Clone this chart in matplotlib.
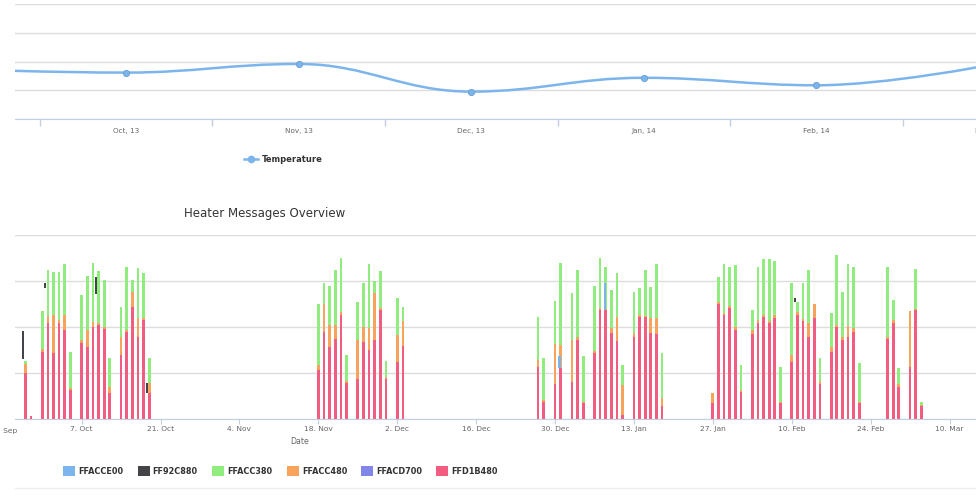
import numpy as np
import pandas as pd
import matplotlib
matplotlib.use("Agg")
import matplotlib.pyplot as plt
from matplotlib.path import Path
from matplotlib.patches import PathPatch, Rectangle
from matplotlib.lines import Line2D

plt.rcParams["font.family"] = ["DejaVu Sans"]

W, H = 976, 496

# temperature chart (monthly categories)
months = ["Sep, 13", "Oct, 13", "Nov, 13", "Dec, 13", "Jan, 14", "Feb, 14", "Mar, 14"]
temperature = [18.7, 18.1, 19.6, 14.8, 17.2, 15.9, 19.4]

# heater messages, one stacked column per day
days = [
    "2013-09-27", "2013-09-28", "2013-09-30", "2013-10-01", "2013-10-02", "2013-10-03",
    "2013-10-04", "2013-10-05", "2013-10-07", "2013-10-08", "2013-10-09", "2013-10-10",
    "2013-10-11", "2013-10-12", "2013-10-14", "2013-10-15", "2013-10-16", "2013-10-17",
    "2013-10-18", "2013-10-19",
    "2013-11-18", "2013-11-19", "2013-11-20", "2013-11-21", "2013-11-22", "2013-11-23",
    "2013-11-25", "2013-11-26", "2013-11-27", "2013-11-28", "2013-11-29", "2013-11-30",
    "2013-12-02", "2013-12-03",
    "2013-12-27", "2013-12-28", "2013-12-30", "2013-12-31", "2014-01-02", "2014-01-03",
    "2014-01-04", "2014-01-06", "2014-01-07", "2014-01-08", "2014-01-09", "2014-01-10",
    "2014-01-11", "2014-01-13", "2014-01-14", "2014-01-15", "2014-01-16", "2014-01-17",
    "2014-01-18",
    "2014-01-27", "2014-01-28", "2014-01-29", "2014-01-30", "2014-01-31", "2014-02-01",
    "2014-02-03", "2014-02-04", "2014-02-05", "2014-02-06", "2014-02-07", "2014-02-08",
    "2014-02-10", "2014-02-11", "2014-02-12", "2014-02-13", "2014-02-14", "2014-02-15",
    "2014-02-17", "2014-02-18", "2014-02-19", "2014-02-20", "2014-02-21", "2014-02-22",
    "2014-02-27", "2014-02-28", "2014-03-01", "2014-03-03", "2014-03-04", "2014-03-05",
]
pink = [
    9.9, 0.7, 14.5, 20.8, 14.3, 20.8, 19.3, 6.3, 16.6, 15.7, 19.9, 20.4, 19.5, 5.6,
    13.9, 19.0, 24.4, 17.9, 21.5, 5.6,
    10.7, 19.0, 15.7, 17.5, 22.6, 7.8, 8.8, 16.8, 15.0, 17.2, 23.7, 8.8, 12.5, 15.9,
    11.4, 3.6, 7.6, 11.0, 8.1, 17.2, 3.4, 14.3, 23.6, 23.6, 18.6, 17.0, 0.9, 17.9,
    22.2, 22.1, 18.6, 18.5, 2.8,
    3.4, 25.1, 22.6, 24.1, 19.3, 5.9, 18.5, 20.8, 22.1, 20.8, 21.9, 3.4, 12.5, 22.6,
    21.2, 17.9, 21.9, 7.7, 14.6, 19.9, 17.2, 17.8, 19.0, 3.4, 17.3, 20.8, 7.0, 11.2,
    23.6, 2.9,
]
orange = [
    2.1, 0.0, 0.8, 1.6, 8.3, 0.7, 3.3, 0.4, 0.6, 3.6, 1.1, 0.4, 0.6, 1.4,
    4.0, 0.4, 3.3, 4.0, 0.5, 2.2,
    1.0, 6.1, 4.7, 2.9, 0.7, 0.4, 8.4, 3.3, 4.7, 10.1, 0.4, 0.4, 5.8, 5.3,
    1.4, 0.5, 8.8, 5.0, 9.1, 0.6, 0.4, 0.4, 0.5, 0.4, 1.1, 5.2, 6.5, 0.7,
    0.4, 0.3, 3.3, 3.4, 1.7,
    2.2, 0.4, 0.4, 0.4, 0.8, 0.4, 0.8, 0.7, 0.5, 0.4, 0.7, 0.4, 1.4, 0.7,
    0.5, 2.9, 3.2, 0.5, 1.1, 0.5, 0.7, 2.4, 0.7, 0.4, 0.6, 0.7, 0.7, 12.2,
    0.4, 0.2,
]
green = [
    0.5, 0.0, 8.2, 10.0, 9.3, 10.5, 11.2, 7.9, 9.8, 11.8, 13.0, 11.4, 10.1, 6.2,
    6.5, 13.7, 2.5, 10.9, 9.7, 5.4,
    13.3, 4.5, 8.6, 12.0, 11.8, 5.8, 8.3, 9.4, 14.1, 2.6, 8.1, 3.3, 7.9, 3.2,
    9.3, 9.1, 9.3, 18.0, 10.3, 14.7, 9.8, 14.2, 11.0, 9.0, 8.3, 9.5, 4.3, 9.1,
    5.8, 10.0, 6.9, 11.9, 9.8,
    0.0, 5.3, 10.8, 8.5, 13.4, 5.4, 4.3, 11.5, 12.2, 13.6, 11.8, 7.6, 15.7, 2.2,
    7.8, 11.7, 0.0, 5.0, 7.3, 15.3, 9.6, 13.6, 13.4, 8.4, 15.1, 4.4, 3.3, 0.0,
    8.5, 0.6,
]

# small floating pieces of the dark and blue series
black_days = ["2013-09-27", "2013-10-01", "2013-10-10", "2013-10-19", "2014-02-11"]
black_low = [13.0, 28.5, 27.2, 5.6, 25.5]
black_high = [19.2, 29.6, 30.8, 7.8, 26.3]
blue_days = ["2013-12-31", "2014-01-08"]
blue_low = [11.0, 23.7]
blue_high = [13.6, 29.5]

tick_days = ["2013-09-23", "2013-10-07", "2013-10-21", "2013-11-04", "2013-11-18",
             "2013-12-02", "2013-12-16", "2013-12-30", "2014-01-13", "2014-01-27",
             "2014-02-10", "2014-02-24", "2014-03-10"]

series_names = ["FFACCE00", "FF92C880", "FFACC380", "FFACC480", "FFACD700", "FFD1B480"]
series_colors = ["#7cb5ec", "#434348", "#90ed7d", "#f7a35c", "#8085e9", "#f15c80"]

GRID = "#dcdcdc"
AXIS = "#c0d0e0"
LABEL = "#666666"
DARK = "#333333"


def fx(px):
    return px / W


def fy(py):
    return 1 - py / H


def spline_path(xs, ys):
    # highcharts style spline (smoothing 1.5)
    n = len(xs)
    left = [None] * n
    right = [None] * n
    for i in range(1, n - 1):
        lx = (1.5 * xs[i] + xs[i - 1]) / 2.5
        ly = (1.5 * ys[i] + ys[i - 1]) / 2.5
        rx = (1.5 * xs[i] + xs[i + 1]) / 2.5
        ry = (1.5 * ys[i] + ys[i + 1]) / 2.5
        corr = (ry - ly) * (rx - xs[i]) / (rx - lx) + ys[i] - ry
        ly += corr
        ry += corr
        if ly > ys[i - 1] and ly > ys[i]:
            ly = max(ys[i - 1], ys[i]); ry = 2 * ys[i] - ly
        elif ly < ys[i - 1] and ly < ys[i]:
            ly = min(ys[i - 1], ys[i]); ry = 2 * ys[i] - ly
        if ry > ys[i + 1] and ry > ys[i]:
            ry = max(ys[i + 1], ys[i]); ly = 2 * ys[i] - ry
        elif ry < ys[i + 1] and ry < ys[i]:
            ry = min(ys[i + 1], ys[i]); ly = 2 * ys[i] - ry
        left[i] = (lx, ly)
        right[i] = (rx, ry)
    verts = [(xs[0], ys[0])]
    codes = [Path.MOVETO]
    for i in range(1, n):
        verts += [right[i - 1] or (xs[i - 1], ys[i - 1]), left[i] or (xs[i], ys[i]), (xs[i], ys[i])]
        codes += [Path.CURVE4] * 3
    return Path(verts, codes)


fig = plt.figure(figsize=(W / 100, H / 100), dpi=100)

# ---------------- temperature
ax1 = fig.add_axes([fx(15), fy(119.3), fx(961), (119.3 - 4) / H])
xs = np.arange(len(months))
ax1.add_patch(PathPatch(spline_path(xs, temperature), fill=False, edgecolor="#7cb5ec", lw=1.8))
ax1.plot(xs, temperature, "o", color="#7cb5ec", markersize=4.5, mec="#6a9fd0", mew=0.6)
ax1.set_yticks([10, 15, 20, 25, 30])
ax1.yaxis.grid(True, color=GRID, lw=1)
ax1.set_axisbelow(True)
ax1.tick_params(axis="y", left=False, labelleft=False)
ax1.set_xticks(xs[:-1] + 0.5)
ax1.set_xticklabels([])
ax1.set_xticks(xs, minor=True)
ax1.set_xticklabels(months, minor=True)
ax1.tick_params(axis="x", which="major", length=5, color=AXIS, width=1)
ax1.tick_params(axis="x", which="minor", length=0, pad=6.5, labelsize=5.2, labelcolor=LABEL)
# limits after ticks so the view is not widened
ax1.set_xlim(1 - 111 / 172.6, 1 + 850 / 172.6)
ax1.set_ylim(10, 30)
for s in ["top", "left", "right"]:
    ax1.spines[s].set_visible(False)
ax1.spines["bottom"].set_color(AXIS)
# label of the month cut by the right edge
fig.text(fx(989), fy(131.5), months[-1], ha="center", va="center", fontsize=5.2, color=LABEL)

fig.add_artist(Line2D([fx(244), fx(258)], [fy(159), fy(159)], color="#7cb5ec", lw=1.8))
fig.add_artist(Line2D([fx(251)], [fy(159)], marker="o", color="#7cb5ec", markersize=4.5))
fig.text(fx(262), fy(159), "Temperature", ha="left", va="center", fontsize=6, fontweight="bold", color=DARK)

# ---------------- heater messages
ax2 = fig.add_axes([fx(15), fy(419), fx(961), (419 - 235) / H])
d = pd.to_datetime(days)
p = np.array(pink)
o = np.array(orange)
g = np.array(green)
bw = 0.48
ax2.bar(d, p, width=bw, color=series_colors[5], lw=0)
ax2.bar(d, o, bottom=p, width=bw, color=series_colors[3], lw=0)
ax2.bar(d, g, bottom=p + o, width=bw, color=series_colors[2], lw=0)
bd = pd.to_datetime(black_days) - pd.Timedelta(hours=11)
ax2.bar(bd, np.array(black_high) - np.array(black_low), bottom=black_low, width=0.4,
        color=series_colors[1], lw=0)
ud = pd.to_datetime(blue_days) - pd.Timedelta(hours=4)
ax2.bar(ud, np.array(blue_high) - np.array(blue_low), bottom=blue_low, width=0.45,
        color=series_colors[0], lw=0)

t = pd.to_datetime(tick_days)
ax2.set_yticks([0, 10, 20, 30, 40])
ax2.yaxis.grid(True, color=GRID, lw=1)
ax2.set_axisbelow(True)
ax2.tick_params(axis="y", left=False, labelleft=False)
ax2.set_xticks(t)
ax2.set_xticklabels([f"{x.day}. {x.strftime('%b')}" for x in t])
ax2.tick_params(axis="x", length=3.5, color=AXIS, pad=1.8, labelsize=5.4, labelcolor=LABEL)
ref = pd.Timestamp("2013-10-07")
ax2.set_xlim(ref - pd.Timedelta(days=11.83), ref + pd.Timedelta(days=158.7))
ax2.set_ylim(0, 40)
for s in ["top", "left", "right"]:
    ax2.spines[s].set_visible(False)
ax2.spines["bottom"].set_color(AXIS)
# first tick label sits partly outside the plot on the left
fig.text(fx(2.8), fy(430.5), f"{t[0].day}. {t[0].strftime('%b')}", ha="center", va="center",
         fontsize=5.4, color=LABEL)
fig.text(fx(300), fy(442), "Date", ha="center", va="center", fontsize=5.6, color=LABEL)
fig.text(fx(265), fy(214), "Heater Messages Overview", ha="center", va="center", fontsize=8.5, color=DARK)

for i, (name, col) in enumerate(zip(series_names, series_colors)):
    x0 = 63 + i * 74.6
    fig.add_artist(Rectangle((fx(x0), fy(476)), fx(12), 10 / H, color=col, lw=0))
    fig.text(fx(x0 + 15), fy(471), name, ha="left", va="center", fontsize=5.9, fontweight="bold", color=DARK)
fig.add_artist(Line2D([fx(15), 1], [fy(488), fy(488)], color="#eeeeee", lw=1))

fig.savefig("out.png", dpi=100)
